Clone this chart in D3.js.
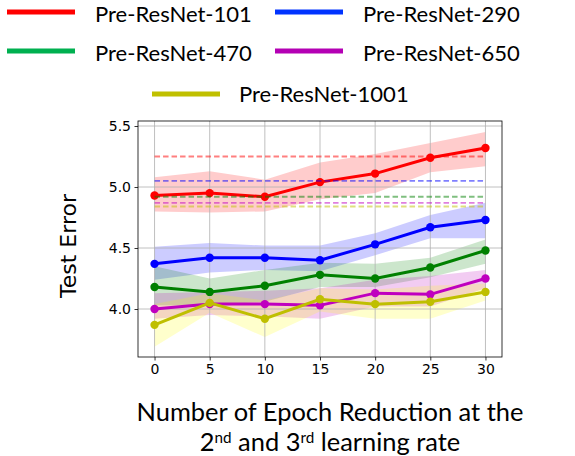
<!DOCTYPE html>
<html>
<head>
<meta charset="utf-8">
<script src="https://cdn.jsdelivr.net/npm/d3@7"></script>
<style>
  html, body { margin: 0; padding: 0; background: #fff; }
  svg { display: block; }
</style>
</head>
<body>
<svg id="chart" width="575" height="456"></svg>
<script>
// epochs removed at the 2nd and 3rd learning rate
const epochs = [0, 5, 10, 15, 20, 25, 30];

const names = ["Pre-ResNet-101", "Pre-ResNet-290", "Pre-ResNet-470", "Pre-ResNet-650", "Pre-ResNet-1001"];

// mean test error per model
const err101  = [4.93, 4.95, 4.92, 5.04, 5.11, 5.24, 5.32];
const err290  = [4.37, 4.42, 4.42, 4.40, 4.53, 4.67, 4.73];
const err470  = [4.18, 4.14, 4.19, 4.28, 4.25, 4.34, 4.48];
const err650  = [4.00, 4.04, 4.04, 4.03, 4.13, 4.12, 4.25];
const err1001 = [3.87, 4.05, 3.92, 4.08, 4.04, 4.06, 4.14];

// shaded band, lower and upper edge
const lo101  = [4.80, 4.79, 4.80, 4.90, 4.95, 5.12, 5.17];
const hi101  = [5.08, 5.13, 5.06, 5.20, 5.27, 5.36, 5.45];
const lo290  = [4.24, 4.30, 4.32, 4.31, 4.44, 4.58, 4.58];
const hi290  = [4.51, 4.54, 4.52, 4.52, 4.62, 4.77, 4.87];
const lo470  = [4.03, 4.03, 4.06, 4.18, 4.18, 4.26, 4.37];
const hi470  = [4.35, 4.25, 4.32, 4.38, 4.37, 4.42, 4.57];
const lo650  = [3.92, 3.95, 3.94, 3.92, 4.02, 4.02, 4.17];
const hi650  = [4.13, 4.14, 4.15, 4.17, 4.24, 4.27, 4.32];
const lo1001 = [3.69, 3.97, 3.77, 3.98, 3.92, 3.92, 4.07];
const hi1001 = [4.04, 4.13, 4.07, 4.17, 4.16, 4.19, 4.21];

// baseline error (full schedule), drawn dashed
const baselines = [5.25, 5.05, 4.92, 4.87, 4.84];

const xTicks = [0, 5, 10, 15, 20, 25, 30];
const yTicks = [4.0, 4.5, 5.0, 5.5];

const means = [err101, err290, err470, err650, err1001];
const lows = [lo101, lo290, lo470, lo650, lo1001];
const highs = [hi101, hi290, hi470, hi650, hi1001];
const colors = ["#ff0000", "#0000ff", "#008000", "#bf00bf", "#bfbf00"];
const bandColors = ["#ff0000", "#0000ff", "#008000", "#bf00bf", "#ffff00"];
const legendColors = ["#ff0000", "#0033ff", "#00b050", "#b400b4", "#c0c000"];

const svg = d3.select("#chart");
const pLeft = 138, pRight = 502, pTop = 121, pBottom = 357;

const x = d3.scaleLinear().domain([-1.5, 31.5]).range([pLeft, pRight]);
const y = d3.scaleLinear().domain([3.6066, 5.541]).range([pBottom, pTop]);

const plot = svg.append("g");

// bands first (below grid)
means.forEach((m, i) => {
  const area = d3.area()
    .x((d, j) => x(epochs[j]))
    .y0((d, j) => y(lows[i][j]))
    .y1((d, j) => y(highs[i][j]));
  plot.append("path")
    .datum(m)
    .attr("d", area)
    .attr("fill", bandColors[i])
    .attr("fill-opacity", 0.2);
});

// grid
plot.append("g").selectAll("line").data(xTicks).join("line")
  .attr("x1", d => x(d)).attr("x2", d => x(d))
  .attr("y1", pTop).attr("y2", pBottom)
  .attr("stroke", "#b0b0b0").attr("stroke-width", 0.8);
plot.append("g").selectAll("line").data(yTicks).join("line")
  .attr("x1", pLeft).attr("x2", pRight)
  .attr("y1", d => y(d)).attr("y2", d => y(d))
  .attr("stroke", "#b0b0b0").attr("stroke-width", 0.8);

// lines, markers, baseline dashes
const line = d3.line().x((d, j) => x(epochs[j])).y(d => y(d));
means.forEach((m, i) => {
  plot.append("path")
    .datum(m)
    .attr("d", line)
    .attr("fill", "none")
    .attr("stroke", colors[i])
    .attr("stroke-width", 3);
  plot.append("g").selectAll("circle").data(m).join("circle")
    .attr("cx", (d, j) => x(epochs[j]))
    .attr("cy", d => y(d))
    .attr("r", 4.2)
    .attr("fill", colors[i]);
  plot.append("line")
    .attr("x1", x(epochs[0])).attr("x2", x(epochs[epochs.length - 1]))
    .attr("y1", y(baselines[i])).attr("y2", y(baselines[i]))
    .attr("stroke", colors[i])
    .attr("stroke-opacity", 0.5)
    .attr("stroke-width", 1.8)
    .attr("stroke-dasharray", "5.5,3");
});

// axes
const xAxis = d3.axisBottom(x).tickValues(xTicks).tickSize(3.5).tickPadding(3.5).tickFormat(d3.format("d"));
const yAxis = d3.axisLeft(y).tickValues(yTicks).tickSize(3.5).tickPadding(3.5).tickFormat(d3.format(".1f"));

const gx = svg.append("g").attr("transform", `translate(0,${pBottom})`).call(xAxis);
const gy = svg.append("g").attr("transform", `translate(${pLeft},0)`).call(yAxis);
[gx, gy].forEach(g => {
  g.select(".domain").remove();
  g.selectAll(".tick line").attr("stroke", "#000").attr("stroke-width", 0.8);
  g.selectAll(".tick text")
    .attr("font-family", "DejaVu Sans")
    .attr("font-size", 14)
    .attr("fill", "#000");
});

// frame
svg.append("rect")
  .attr("x", pLeft).attr("y", pTop)
  .attr("width", pRight - pLeft).attr("height", pBottom - pTop)
  .attr("fill", "none").attr("stroke", "#000").attr("stroke-width", 0.8);

// y label
svg.append("text")
  .attr("transform", "translate(76,246) rotate(-90)")
  .attr("text-anchor", "middle")
  .attr("font-family", "DejaVu Sans")
  .attr("font-size", 22)
  .text("Test Error");

// helper: fit a text element to a target width by font size
function fitSize(family, str, width) {
  const t = svg.append("text").attr("font-family", family).attr("font-size", 100).text(str);
  const w = t.node().getComputedTextLength();
  t.remove();
  return 100 * width / w;
}

const labelFont = "Lato";

// x label
const xlSize = fitSize(labelFont, "Number of Epoch Reduction at the", 387);
svg.append("text")
  .attr("x", 330).attr("y", 421)
  .attr("text-anchor", "middle")
  .attr("font-family", labelFont)
  .attr("font-size", xlSize)
  .text("Number of Epoch Reduction at the");
const l2 = svg.append("text")
  .attr("x", 330).attr("y", 451)
  .attr("text-anchor", "middle")
  .attr("font-family", labelFont)
  .attr("font-size", xlSize);
l2.append("tspan").text("2");
l2.append("tspan").attr("font-size", xlSize * 0.6).attr("dy", -8).text("nd");
l2.append("tspan").attr("dy", 8).text(" and 3");
l2.append("tspan").attr("font-size", xlSize * 0.6).attr("dy", -8).text("rd");
l2.append("tspan").attr("dy", 8).text(" learning rate");

// legend
const lgSize = fitSize(labelFont, names[0], 157);
const legendSpots = [
  { lx: 7, ly: 12, tx: 95, ty: 22 },
  { lx: 275, ly: 12, tx: 363, ty: 22 },
  { lx: 7, ly: 51, tx: 95, ty: 61 },
  { lx: 275, ly: 51, tx: 363, ty: 61 },
  { lx: 152, ly: 94, tx: 239, ty: 102 }
];
const lg = svg.append("g").selectAll("g").data(names).join("g");
lg.append("line")
  .attr("x1", (d, i) => legendSpots[i].lx)
  .attr("x2", (d, i) => legendSpots[i].lx + 68)
  .attr("y1", (d, i) => legendSpots[i].ly)
  .attr("y2", (d, i) => legendSpots[i].ly)
  .attr("stroke", (d, i) => legendColors[i])
  .attr("stroke-width", 5);
lg.append("text")
  .attr("x", (d, i) => legendSpots[i].tx)
  .attr("y", (d, i) => legendSpots[i].ty)
  .attr("font-family", labelFont)
  .attr("font-size", lgSize)
  .text(d => d);
</script>
</body>
</html>
